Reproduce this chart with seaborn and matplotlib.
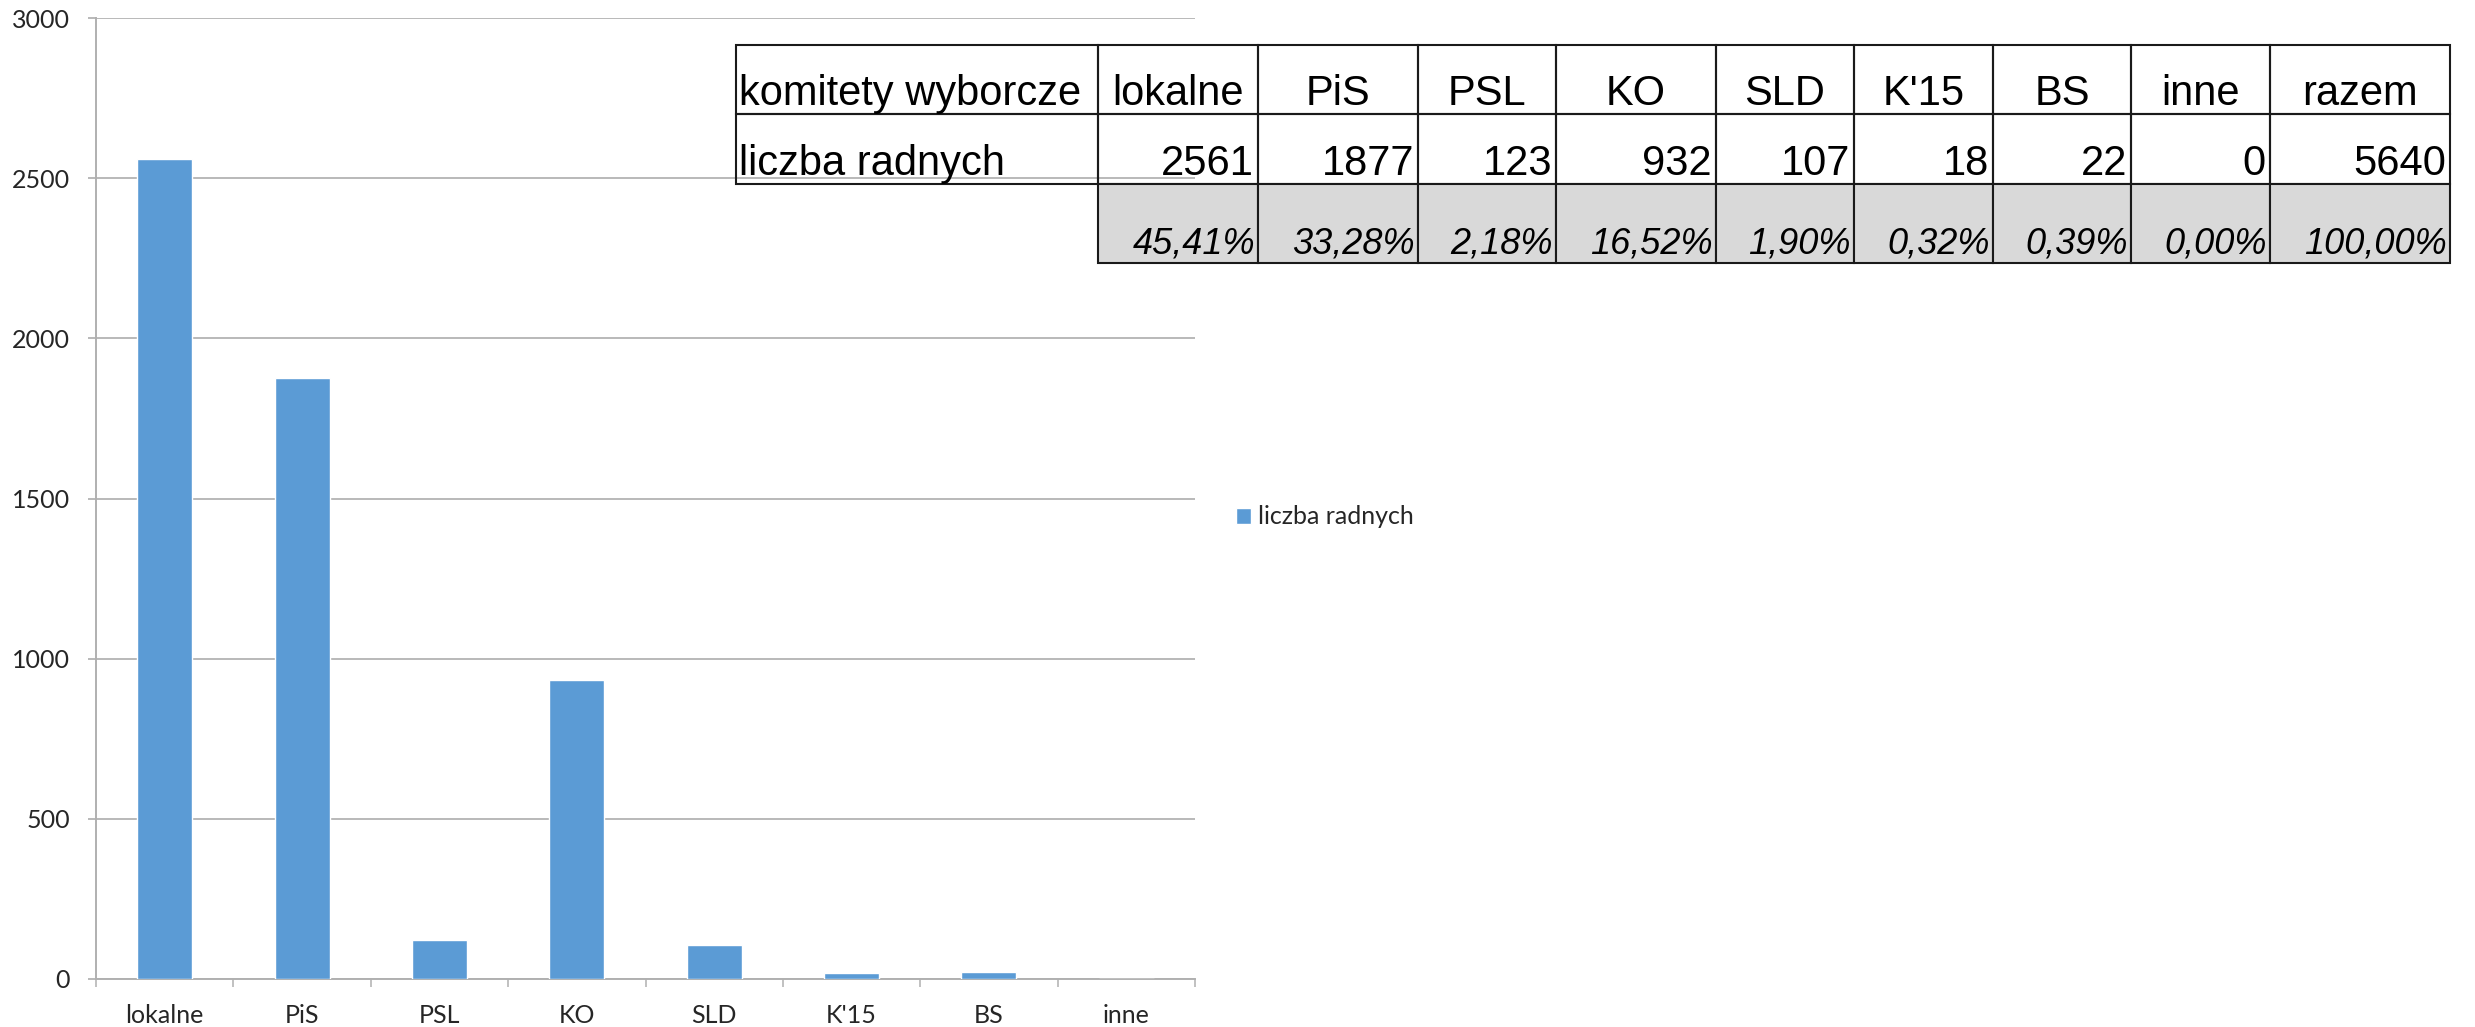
import numpy as np
import matplotlib
matplotlib.use('Agg')
import matplotlib.pyplot as plt
import pandas as pd
import seaborn as sns
from matplotlib import font_manager
from matplotlib.patches import Rectangle

komitety = ['lokalne', 'PiS', 'PSL', 'KO', 'SLD', "K'15", 'BS', 'inne']
radni = [2561, 1877, 123, 932, 107, 18, 22, 0]
razem = 5640
procenty = ['45,41%', '33,28%', '2,18%', '16,52%', '1,90%', '0,32%', '0,39%', '0,00%', '100,00%']
opisy_wierszy = ['komitety wyborcze', 'liczba radnych']
naglowek_sumy = 'razem'
seria = 'liczba radnych'
y_ticks = [0, 500, 1000, 1500, 2000, 2500, 3000]

BAR = '#5B9BD5'
GRID = '#a6a6a6'
AXIS = '#b0b0b0'
TXT = '#262626'
W, H, DPI = 2475, 1027, 100

sns.set_theme(style='white')
plt.rcParams['font.family'] = ['Lato', 'DejaVu Sans']

fig = plt.figure(figsize=(W / DPI, H / DPI), dpi=DPI)
ax = fig.add_axes([96 / W, 1 - 979 / H, (1195 - 96) / W, (979 - 18) / H])

df = pd.DataFrame({'komitet': komitety, 'radni': radni})
sns.barplot(data=df, x='komitet', y='radni', color=BAR, saturation=1,
            width=0.4, ax=ax, zorder=3)

ax.set_ylim(0, 3000)
ax.set_xlim(-0.5, len(komitety) - 0.5)
ax.set_yticks(y_ticks)
ax.set_xlabel('')
ax.set_ylabel('')
ax.set_axisbelow(True)
ax.yaxis.grid(True, color=GRID, lw=1.1)
ax.xaxis.grid(False)
sns.despine(ax=ax, top=True, right=True)
for s in ['left', 'bottom']:
    ax.spines[s].set_color(AXIS)
    ax.spines[s].set_linewidth(1.4)

ax.tick_params(axis='y', left=True, length=5.8, width=1.1, color=GRID,
               pad=13, labelsize=18, labelcolor=TXT)
ax.set_xticks(np.arange(-0.5, len(komitety), 1), minor=True)
ax.tick_params(axis='x', which='minor', bottom=True, length=5.8, width=1.1, color=AXIS)
ax.tick_params(axis='x', which='major', bottom=True, length=0, pad=18,
               labelsize=18, labelcolor=TXT)

leg = ax.legend([ax.containers[0]], [seria], loc='center left',
                bbox_to_anchor=(1236 / W, 1 - 517 / H), bbox_transform=fig.transFigure,
                frameon=False, fontsize=18, handlelength=0.6, handleheight=0.6,
                handletextpad=0.3, borderpad=0, borderaxespad=0)
for t in leg.get_texts():
    t.set_color(TXT)

# tabela nad wykresem
col_w = [362, 160, 160, 138, 160, 138, 139, 138, 139, 180]
row_h = [69, 70, 79]
tab = fig.add_axes([736 / W, 1 - 263 / H, sum(col_w) / W, sum(row_h) / H])
tab.set_xlim(0, sum(col_w))
tab.set_ylim(sum(row_h), 0)
tab.axis('off')
tab.patch.set_alpha(0)

xs = np.concatenate([[0], np.cumsum(col_w)])
ys = np.concatenate([[0], np.cumsum(row_h)])

names = {f.name for f in font_manager.fontManager.ttflist}
if 'Liberation Sans Narrow' in names:
    pct_font = dict(family=['Liberation Sans Narrow', 'DejaVu Sans'], size=30, style='italic')
else:
    pct_font = dict(family=['Liberation Sans', 'DejaVu Sans'], size=26, style='italic')
cell_font = dict(family=['Liberation Sans', 'DejaVu Sans'], size=30)

wiersze = [
    [opisy_wierszy[0]] + komitety + [naglowek_sumy],
    [opisy_wierszy[1]] + [str(v) for v in radni] + [str(razem)],
    [''] + procenty,
]

for r, wiersz in enumerate(wiersze):
    for c, txt in enumerate(wiersz):
        if r == 2 and c == 0:
            continue
        face = '#d9d9d9' if r == 2 else 'none'
        tab.add_patch(Rectangle((xs[c], ys[r]), col_w[c], row_h[r], facecolor=face,
                                edgecolor='#1a1a1a', lw=1.5, clip_on=False))
        yb = ys[r + 1] - 9
        if c == 0:
            tab.text(xs[c] + 3, yb, txt, ha='left', va='baseline', color='black', **cell_font)
        elif r == 0:
            tab.text((xs[c] + xs[c + 1]) / 2, yb, txt, ha='center', va='baseline',
                     color='black', **cell_font)
        elif r == 1:
            tab.text(xs[c + 1] - 4, yb, txt, ha='right', va='baseline', color='black', **cell_font)
        else:
            tab.text(xs[c + 1] - 3, yb, txt, ha='right', va='baseline', color='black', **pct_font)

fig.savefig('out.png', dpi=DPI)
